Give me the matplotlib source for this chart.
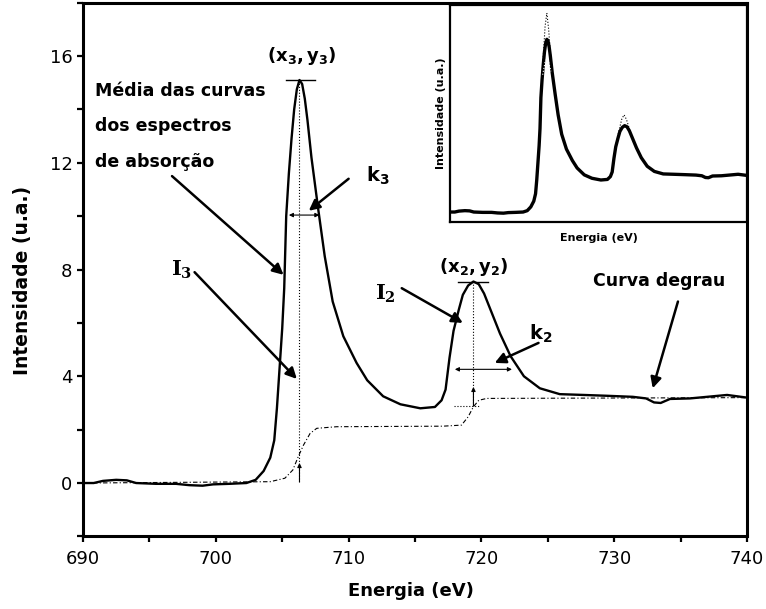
import matplotlib.pyplot as plt
from matplotlib.ticker import MultipleLocator

# Averaged L2,3 absorption spectrum (energy in eV, intensity in a.u.)
energy = [690.0, 690.8, 691.5, 692.5, 693.3, 694.0, 695.5, 697.0, 698.0, 699.0,
          699.8, 701.0, 702.3, 703.0, 703.6, 704.1, 704.4, 704.6, 704.8, 705.0,
          705.15, 705.3, 705.5, 705.7, 705.9, 706.1, 706.3, 706.5, 706.7, 706.9,
          707.2, 707.7, 708.2, 708.8, 709.6, 710.6, 711.4, 712.6, 713.9, 715.4,
          716.5, 717.0, 717.3, 717.6, 717.9, 718.3, 718.6, 719.0, 719.4, 719.8,
          720.2, 720.6, 721.4, 722.2, 723.2, 724.4, 725.9, 727.7, 729.4, 731.4,
          732.4, 733.0, 733.5, 734.2, 735.7, 737.0, 738.5, 740.0]
intensity = [0.0, 0.0, 0.08, 0.12, 0.1, 0.0, -0.03, -0.03, -0.08, -0.1,
             -0.05, -0.03, 0.0, 0.12, 0.45, 0.95, 1.6, 2.8, 4.3, 5.8,
             7.3, 10.0, 11.6, 12.9, 14.0, 14.75, 15.1, 14.95, 14.4, 13.6,
             12.2, 10.3, 8.5, 6.8, 5.5, 4.5, 3.85, 3.25, 2.95, 2.8,
             2.85, 3.1, 3.5, 4.7, 5.7, 6.5, 7.05, 7.4, 7.55, 7.45,
             7.1, 6.6, 5.6, 4.75, 4.0, 3.55, 3.33, 3.3, 3.27, 3.23,
             3.17, 3.02, 3.0, 3.15, 3.17, 3.23, 3.3, 3.2]

# step (edge jump) curve
step_e = [690.0, 704.1, 705.2, 705.8, 706.2, 706.6, 707.1, 707.6, 709.1,
          717.1, 718.5, 719.0, 719.4, 719.8, 720.4, 740.0]
step_y = [0.0, 0.05, 0.18, 0.49, 0.98, 1.42, 1.86, 2.05, 2.11,
          2.13, 2.17, 2.48, 2.86, 3.1, 3.17, 3.2]

# peak positions (x3, y3) and (x2, y2)
x3, y3 = 706.3, 15.1
x2, y2 = 719.4, 7.55
# widths k3, k2 (start, end, height)
k3 = (705.5, 707.8, 10.04)
k2 = (718.0, 722.3, 4.26)

# individual spectra near the white lines (inset)
ind1_e = [705.4, 705.7, 706.0, 706.3, 706.6, 706.9, 707.3,
          None, 717.9, 718.4, 718.9, 719.3, 719.7, 720.3, 721.0]
ind1_y = [11.5, 13.6, 16.2, 17.4, 16.0, 13.9, 11.8,
          None, 5.8, 7.0, 8.1, 8.5, 8.1, 7.1, 5.9]
ind2_e = [705.6, 706.0, 706.3, 706.6, 707.0]
ind2_y = [12.0, 13.1, 13.4, 13.1, 12.3]

fig = plt.figure(figsize=(7.66, 6.09), dpi=100)
ax = fig.add_axes([0.1084, 0.1192, 0.8668, 0.8765])

ax.plot(energy, intensity, color='black', lw=1.7)
ax.plot(step_e, step_y, color='black', lw=0.8, ls=(0, (4, 2, 1, 2)))

ax.set_xlim(690, 740)
ax.set_ylim(-2, 18)
ax.xaxis.set_major_locator(MultipleLocator(10))
ax.xaxis.set_minor_locator(MultipleLocator(5))
ax.yaxis.set_major_locator(MultipleLocator(4))
ax.yaxis.set_minor_locator(MultipleLocator(2))
ax.tick_params(which='both', direction='out', length=4, width=1.6,
               labelsize=13, top=False, right=False)
ax.tick_params(axis='x', pad=6)
for sp in ax.spines.values():
    sp.set_linewidth(2.2)

ax.set_xlabel('Energia (eV)', fontsize=13, fontweight='bold')
ax.set_ylabel('Intensidade (u.a.)', fontsize=13.5, fontweight='bold')
ax.xaxis.set_label_coords(0.494, -0.086)
ax.yaxis.set_label_coords(-0.077, 0.48)

# guide lines at the white lines
ax.plot([x3, x3], [0.05, y3], color='black', lw=0.8, ls=':')
ax.plot([x2, x2], [2.9, y2], color='black', lw=0.8, ls=':')
ax.plot([717.9, 719.8], [2.9, 2.9], color='black', lw=0.8, ls=':')
ax.plot([705.3, 707.5], [y3, y3], color='black', lw=1.0)
ax.plot([718.2, 720.5], [y2, y2], color='black', lw=1.0)

small = dict(arrowstyle='-|>', lw=0.8, color='black', mutation_scale=6,
             shrinkA=0, shrinkB=0)
ax.annotate('', xy=(x3, 0.75), xytext=(x3, 0.05), arrowprops=small)
ax.annotate('', xy=(x2, 3.6), xytext=(x2, 2.9), arrowprops=small)

both = dict(arrowstyle='<|-|>', lw=0.8, color='black', mutation_scale=6,
            shrinkA=0, shrinkB=0)
ax.annotate('', xy=(k3[1], k3[2]), xytext=(k3[0], k3[2]), arrowprops=both)
ax.annotate('', xy=(k2[1], k2[2]), xytext=(k2[0], k2[2]), arrowprops=both)

big = dict(arrowstyle='-|>', lw=1.8, color='black', mutation_scale=16,
           shrinkA=0, shrinkB=0)
ax.annotate('', xy=(705.1, 7.8), xytext=(696.7, 11.5), arrowprops=big)
ax.annotate('', xy=(706.1, 3.9), xytext=(698.4, 7.9), arrowprops=big)
ax.annotate('', xy=(707.0, 10.2), xytext=(710.0, 11.4), arrowprops=big)
ax.annotate('', xy=(718.6, 6.0), xytext=(714.0, 7.3), arrowprops=big)
ax.annotate('', xy=(721.0, 4.5), xytext=(724.3, 5.25), arrowprops=big)
ax.annotate('', xy=(732.9, 3.55), xytext=(734.8, 6.8), arrowprops=big)

# labels
for txt, yy in [('Média das curvas', 14.5), ('dos espectros', 13.2),
                ('de absorção', 11.85)]:
    ax.text(690.9, yy, txt, fontsize=12.5, fontweight='bold', va='baseline')
ax.text(728.4, 7.4, 'Curva degrau', fontsize=12.5, fontweight='bold',
        va='baseline')
ax.text(x3 + 0.2, 16.0, r'$\mathbf{(x_3,y_3)}$', fontsize=13,
        ha='center', va='center', math_fontfamily='dejavusans')
ax.text(x2, 8.1, r'$\mathbf{(x_2,y_2)}$', fontsize=13,
        ha='center', va='center', math_fontfamily='dejavusans')
ax.text(697.4, 8.0, r'$\mathbf{I_3}$', fontsize=15, ha='center',
        va='center', math_fontfamily='dejavuserif')
ax.text(712.8, 7.1, r'$\mathbf{I_2}$', fontsize=15, ha='center',
        va='center', math_fontfamily='dejavuserif')
ax.text(712.2, 11.5, r'$\mathbf{k_3}$', fontsize=14, ha='center',
        va='center', math_fontfamily='dejavusans')
ax.text(724.5, 5.6, r'$\mathbf{k_2}$', fontsize=14, ha='center',
        va='center', math_fontfamily='dejavusans')

# inset with the individual spectra
ins = fig.add_axes([0.5875, 0.6355, 0.3877, 0.3563])
ins.plot(energy, intensity, color='black', lw=2.4)
ins.plot(ind1_e, ind1_y, color='black', lw=0.8, ls=':')
ins.plot(ind2_e, ind2_y, color='white', lw=0.8, ls=':')
ins.set_xlim(690, 740)
ins.set_ylim(-0.87, 18.1)
ins.set_xticks([])
ins.set_yticks([])
for sp in ins.spines.values():
    sp.set_linewidth(1.6)
ins.set_xlabel('Energia (eV)', fontsize=8, fontweight='bold', labelpad=8)
ins.set_ylabel('Intensidade (u.a.)', fontsize=8, fontweight='bold', labelpad=3)

fig.savefig('out.png', dpi=100)
